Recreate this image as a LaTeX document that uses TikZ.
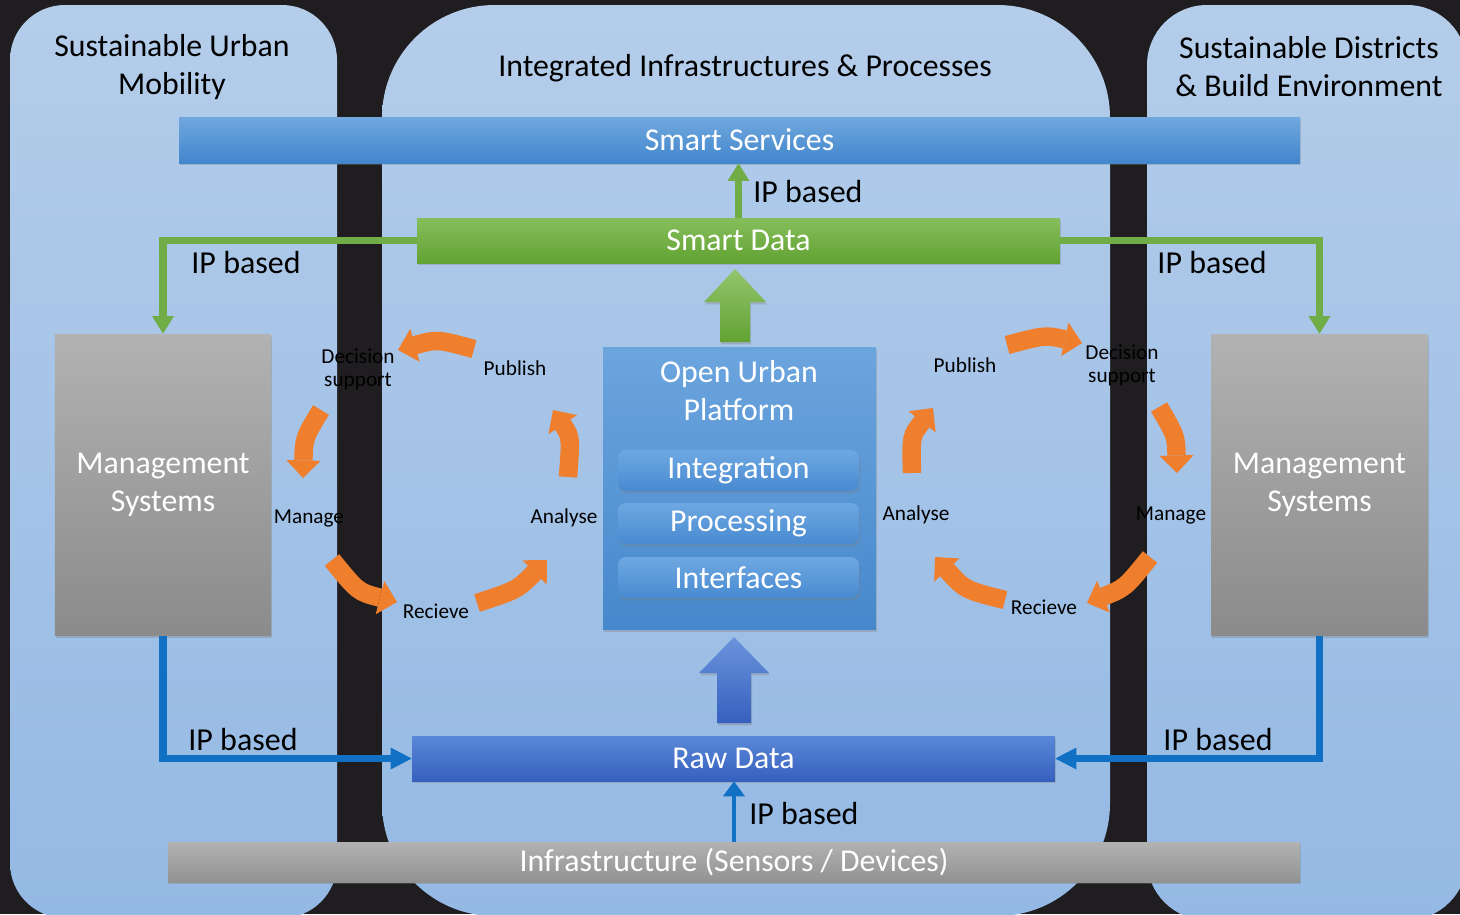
\documentclass[tikz,border=0pt]{standalone}
\usepackage{fontspec}
\setmainfont{Carlito}
\usetikzlibrary{arrows.meta,shadows}
\definecolor{bgC}{RGB}{31,29,32}
\definecolor{panelTop}{RGB}{180,205,234}
\definecolor{panelBot}{RGB}{148,185,228}
\definecolor{ssTop}{RGB}{112,168,222}
\definecolor{ssBot}{RGB}{66,134,204}
\definecolor{sdTop}{RGB}{134,190,92}
\definecolor{sdBot}{RGB}{98,162,50}
\definecolor{oupTop}{RGB}{108,165,222}
\definecolor{oupBot}{RGB}{70,136,204}
\definecolor{subTop}{RGB}{110,168,226}
\definecolor{subBot}{RGB}{72,138,208}
\definecolor{rawTop}{RGB}{90,136,216}
\definecolor{rawBot}{RGB}{54,96,190}
\definecolor{grayTop}{RGB}{178,178,178}
\definecolor{grayBot}{RGB}{146,146,146}
\definecolor{greenC}{RGB}{112,173,71}
\definecolor{blueC}{RGB}{16,112,196}
\definecolor{orangeC}{RGB}{239,126,45}
\newcommand\bigf{\fontsize{18.1}{21.6}\selectfont}
\newcommand\ipf{\fontsize{18.2}{21}\selectfont}
\newcommand\smallf{\fontsize{12.1}{13.1}\selectfont}
\begin{document}
\begin{tikzpicture}[x=0.02cm,y=-0.02cm,
  shadowd/.style={drop shadow={shadow xshift=0.6pt,shadow yshift=-1.4pt,opacity=0.35}},
  bar/.style={shadowd,inner sep=0pt,text=white,font=\bigf,align=center},
  panel/.style={top color=panelTop,bottom color=panelBot,draw=none},
  titletxt/.style={font=\bigf,align=center,text=black,inner sep=0pt},
  lbl/.style={font=\smallf,align=center,text=black,inner sep=0pt},
  iplbl/.style={font=\ipf,text=black,inner sep=0pt},
  greenln/.style={draw=greenC,line width=4pt,-{Triangle[width=12.5pt,length=10pt,line width=0pt]}},
  blueln/.style={draw=blueC,line width=4pt,-{Triangle[width=12.5pt,length=12pt,line width=0pt]}},
  bluethin/.style={draw=blueC,line width=2.8pt,-{Triangle[width=12.5pt,length=8.5pt,line width=0pt]}},
  orarrow/.style={draw=orangeC,line width=10.5pt,-{Triangle[width=19.5pt,length=10pt,line width=0pt]}}
]
\useasboundingbox (0,0) rectangle (1460,914);
\fill[bgC] (0,0) rectangle (1460,914);
\clip (0,0) rectangle (1460,914);

% panels
\shade[panel,rounded corners=1.1cm] (10,5) rectangle (337,918);
\shade[panel,rounded corners=2.25cm] (382,5) rectangle (1110,916);
\shade[panel,rounded corners=1.2cm] (1147,5) rectangle (1467,920);

% titles
\node[titletxt] (t1) at (172,67) {Sustainable Urban\\Mobility};
\node[titletxt] (t2) at (745,68) {Integrated Infrastructures \& Processes};
\node[titletxt] (t3) at (1309,67) {Sustainable Districts\\\& Build Environment};

% bars
\node[bar,top color=ssTop,bottom color=ssBot,minimum width=22.42cm,minimum height=0.92cm] (ss) at (739.5,140) {Smart Services};
\node[bar,top color=sdTop,bottom color=sdBot,minimum width=12.86cm,minimum height=0.9cm] (sd) at (738.5,240.5) {Smart Data};
\node[bar,top color=rawTop,bottom color=rawBot,minimum width=12.86cm,minimum height=0.9cm] (raw) at (733.5,758.5) {Raw Data};
\node[bar,top color=grayTop,bottom color=grayBot,minimum width=22.64cm,minimum height=0.8cm] (infra) at (734,862) {Infrastructure (Sensors / Devices)};

% management systems
\node[bar,top color=grayTop,bottom color=grayBot!95!black,minimum width=4.33cm,minimum height=6.04cm] (msl) at (163,485) {Management\\Systems};
\node[bar,top color=grayTop,bottom color=grayBot!95!black,minimum width=4.33cm,minimum height=6.04cm] (msr) at (1319.5,485) {Management\\Systems};

% open urban platform
\node[bar,top color=oupTop,bottom color=oupBot,minimum width=5.46cm,minimum height=5.66cm] (oup) at (739.5,488.5) {};
\node[inner sep=0pt,text=white,font=\bigf,align=center] (ouptitle) at (739,391) {Open Urban\\Platform};
\node[bar,rounded corners=0.16cm,top color=subTop,bottom color=subBot,minimum width=4.82cm,minimum height=0.82cm] (integ) at (738.5,470.5) {Integration};
\node[bar,rounded corners=0.16cm,top color=subTop,bottom color=subBot,minimum width=4.82cm,minimum height=0.82cm] (proc) at (738.5,523.5) {Processing};
\node[bar,rounded corners=0.16cm,top color=subTop,bottom color=subBot,minimum width=4.82cm,minimum height=0.82cm] (intf) at (738.5,577.5) {Interfaces};

% block arrows
\shade[shadowd,top color=sdTop!90!white,bottom color=sdBot] (720,342) -- (720,302) -- (704,302) -- (735,269) -- (766,302) -- (750,302) -- (750,342) -- cycle;
\shade[shadowd,top color=rawTop!90!white,bottom color=rawBot] (717,723) -- (717,673) -- (699,673) -- (734,637) -- (769,673) -- (751,673) -- (751,723) -- cycle;

% connectors
\draw[greenln] (sd.west) -| (msl.north);
\draw[greenln] (sd.east) -| (msr.north);
\draw[greenln] (sd.north) -- (sd.north |- ss.south);
\draw[blueln] (msl.south) |- (raw.west);
\draw[blueln] (msr.south) |- (raw.east);
\draw[bluethin] (infra.north) -- (infra.north |- raw.south);

% IP based labels
\node[iplbl,anchor=west] (ip1) at (753,192) {IP based};
\node[iplbl] (ip2) at (246,263) {IP based};
\node[iplbl] (ip3) at (1212,263) {IP based};
\node[iplbl] (ip4) at (243,739) {IP based};
\node[iplbl] (ip5) at (1218,739) {IP based};
\node[iplbl,anchor=west] (ip6) at (749,813) {IP based};

% orange cycle arrows (left)
\draw[orarrow] (474,349) .. controls (437,339) .. (398,350);
\draw[orarrow] (321,410) .. controls (304,438) .. (303,478);
\draw[orarrow] (332,560) .. controls (358,592) .. (397,602);
\draw[orarrow] (477,603) .. controls (517,590) .. (547,560);
\draw[orarrow] (568,477) .. controls (571,437) .. (553,410);
% orange cycle arrows (right)
\draw[orarrow] (1007,345) .. controls (1045,335) .. (1082,343);
\draw[orarrow] (1159,407) .. controls (1176,436) .. (1177,473);
\draw[orarrow] (1150,557) .. controls (1125,588) .. (1087,603);
\draw[orarrow] (1005,600) .. controls (965,590) .. (935,557);
\draw[orarrow] (912,473) .. controls (911,436) .. (933,408);

% cycle labels
\node[lbl] (ldec) at (358,369) {Decision\\support};
\node[lbl] (lpub) at (515,368) {Publish};
\node[lbl] (lana) at (564,518) {Analyse};
\node[lbl] (lrec) at (436,611) {Recieve};
\node[lbl] (lman) at (309,518) {Manage};
\node[lbl] (rpub) at (965,365) {Publish};
\node[lbl] (rdec) at (1122,365) {Decision\\support};
\node[lbl] (rman) at (1171,515) {Manage};
\node[lbl] (rrec) at (1044,607) {Recieve};
\node[lbl] (rana) at (916,515) {Analyse};
\end{tikzpicture}
\end{document}
